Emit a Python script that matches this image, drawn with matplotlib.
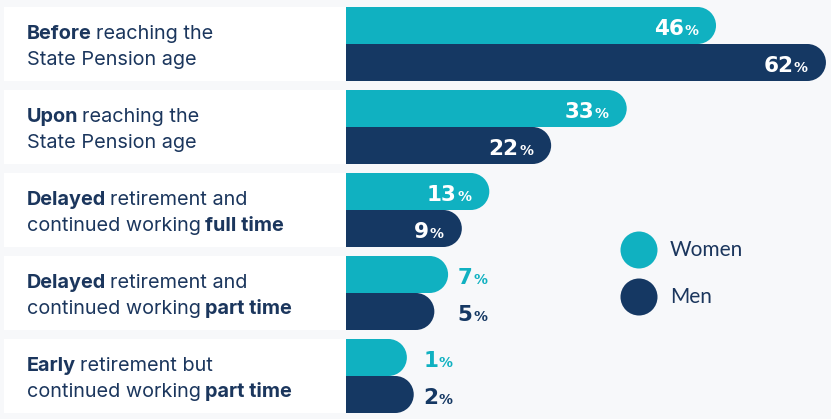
import matplotlib.pyplot as plt
from matplotlib.patches import Rectangle, Ellipse, Circle
from matplotlib.transforms import offset_copy

# shares of people (percent) by retirement pattern
women = [46, 33, 13, 7, 1]
men = [62, 22, 9, 5, 2]
labels = [
    [[("Before", True), ("reaching the", False)], [("State Pension age", False)]],
    [[("Upon", True), ("reaching the", False)], [("State Pension age", False)]],
    [[("Delayed", True), ("retirement and", False)],
     [("continued working", False), ("full time", True)]],
    [[("Delayed", True), ("retirement and", False)],
     [("continued working", False), ("part time", True)]],
    [[("Early", True), ("retirement but", False)],
     [("continued working", False), ("part time", True)]],
]
series = ["Women", "Men"]

TEAL = '#10b1c1'
NAVY = '#153863'
BG = '#f7f8fa'
TXT = '#1b365d'
LABEL_FONT = 'Inter'
NUM_FONT = 'DejaVu Sans'

W, H = 831, 419
fig = plt.figure(figsize=(W / 100, H / 100), dpi=100, facecolor=BG)
r = fig.canvas.get_renderer()

# background axes in pixel units for label boxes and legend
bg = fig.add_axes([0, 0, 1, 1])
bg.set_xlim(0, W)
bg.set_ylim(H, 0)
bg.axis('off')

row_step = 83
box_top = 7
for i, lines in enumerate(labels):
    top = box_top + row_step * i
    bg.add_patch(Rectangle((4, top), 342, 74, facecolor='white', edgecolor='none'))
    for j, pieces in enumerate(lines):
        x = 27
        y = top + 32 + 26 * j
        for k, (s, bold) in enumerate(pieces):
            t = bg.text(x, y, s, fontsize=14.3, family=LABEL_FONT, color=TXT,
                        fontweight='bold' if bold else 'normal', va='baseline')
            x += t.get_window_extent(renderer=r).width + 4

# legend
for k, (name, col) in enumerate(zip(series, [TEAL, NAVY])):
    cy = 250 + 47 * k
    bg.add_patch(Circle((639, cy), 18.5, facecolor=col, edgecolor='none'))
    bg.text(670, cy, name, fontsize=15, family='Lato', color=TXT, va='center')

# bars axes: x in percent, y in rows
px_per = 6.87
base = 54 / px_per
ax = fig.add_axes([346 / W, 0, (W - 346) / W, 1])
ax.set_xlim(-base, -base + (W - 346) / px_per)
ax.set_ylim((H - 44) / row_step, -44 / row_step)
ax.axis('off')
ax.patch.set_alpha(0)

h = 37 / row_step
rx = 18.5 / px_per


def pct_label(xv, yc, val, color, dx):
    tr = offset_copy(ax.transData, fig=fig, x=dx, y=0, units='dots')
    p = ax.text(xv, yc + 9 / row_step, "%", transform=tr, fontsize=10,
                family=NUM_FONT, fontweight='semibold', color=color,
                ha='right', va='baseline')
    w = p.get_window_extent(renderer=r).width
    tr2 = offset_copy(ax.transData, fig=fig, x=dx - w - 0.5, y=0, units='dots')
    ax.text(xv, yc + 9 / row_step, str(val), transform=tr2, fontsize=15.5,
            family=NUM_FONT, fontweight='bold', color=color, ha='right', va='baseline')


for i in range(len(women)):
    group_max = max(women[i], men[i])
    for val, off, col in [(women[i], -h / 2, TEAL), (men[i], h / 2, NAVY)]:
        yc = i + off
        ax.add_patch(Rectangle((-base, yc - h / 2), val - rx + base, h,
                               facecolor=col, edgecolor='none'))
        ax.add_patch(Ellipse((val - rx, yc), 2 * rx, h, facecolor=col, edgecolor='none'))
        if val >= 9:
            pct_label(val, yc, val, 'white', -18)
        else:
            pct_label(group_max, yc, val, col, 39)

fig.savefig('out.png', dpi=100, facecolor=BG)
